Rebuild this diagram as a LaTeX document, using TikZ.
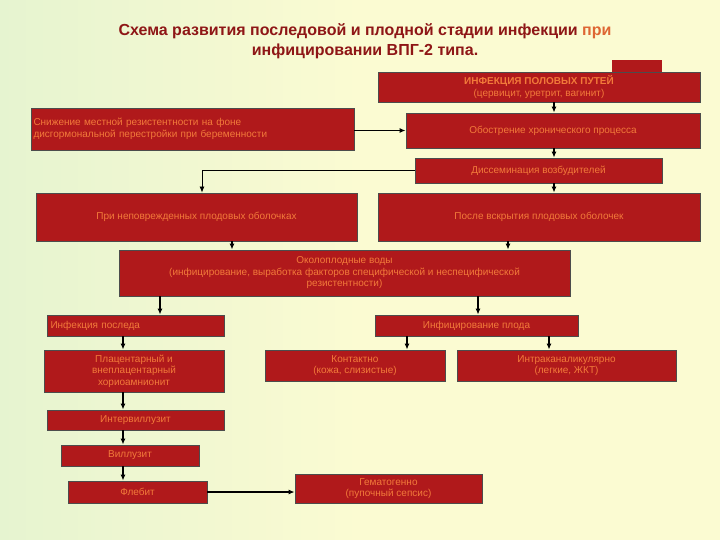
\documentclass[tikz,border=0pt]{standalone}
\usepackage{fontspec}
\setmainfont{Liberation Sans}
\usetikzlibrary{arrows.meta}
\definecolor{bxf}{HTML}{B0191B}
\definecolor{bxt}{HTML}{F27A3A}
\definecolor{ttl}{HTML}{8E1616}
\definecolor{bgy}{HTML}{FBFBD2}
\definecolor{bgg}{HTML}{E6F4D0}
\tikzset{
  bx/.style={draw=black!70,line width=0.8pt,fill=bxf,text=bxt,font=\fontsize{10}{11.5}\selectfont,align=center,inner sep=1pt},
  ar/.style={line width=1.2pt,-{Latex[length=6pt,width=5pt]}}
}
\newcommand{\rbox}[6]{\node[bx,minimum width=#4-#2,minimum height=#5-#3] (#1) at ({(#2+#4)/2},{(#3+#5)/2}) {#6};}
\begin{document}
\begin{tikzpicture}[x=1pt,y=-1pt]
\shade[left color=bgg,right color=bgy] (0,0) rectangle (360,540);
\fill[bgy] (360,0) rectangle (720,540);
\useasboundingbox (0,0) rectangle (720,540);
\fill[bxf] (612,60) rectangle (662,73);
\node[font=\bfseries\fontsize{16}{20}\selectfont,text=ttl,align=center] (title) at (365,41) {Схема развития последовой и плодной стадии инфекции \textcolor{bxt!80!ttl}{при}\\инфицировании ВПГ-2 типа.};
\rbox{top}{378}{72}{700}{102}{\textbf{ИНФЕКЦИЯ ПОЛОВЫХ ПУТЕЙ}\\(цервицит, уретрит, вагинит)}
\node[bx,minimum width=323,minimum height=42,align=left,text width=318] (sn) at (192.5,129) {Снижение местной резистентности на фоне\\дисгормональной перестройки при беременности};
\rbox{ob}{406}{113}{700}{148}{Обострение хронического процесса}
\rbox{dis}{415}{158}{662}{183}{Диссеминация возбудителей}
\rbox{pri}{36}{193}{357}{241}{При неповрежденных плодовых оболочках}
\rbox{pos}{378}{193}{700}{241}{После вскрытия плодовых оболочек}
\rbox{ok}{119}{250}{570}{296}{Околоплодные воды\\(инфицирование, выработка факторов специфической и неспецифической\\резистентности)}
\node[bx,minimum width=177,minimum height=21,align=left,text width=170] (pl) at (135.5,325.5) {Инфекция последа};
\rbox{pf}{375}{315}{578}{336}{Инфицирование плода}
\rbox{plc}{44}{350}{224}{392}{Плацентарный и\\внеплацентарный\\хориоамнионит}
\rbox{kon}{265}{350}{445}{381}{Контактно\\(кожа, слизистые)}
\rbox{int}{457}{350}{676}{381}{Интраканаликулярно\\(легкие, ЖКТ)}
\rbox{iv}{47}{410}{224}{430}{Интервиллузит}
\rbox{vil}{61}{445}{199}{466}{Виллузит}
\rbox{fl}{68}{481}{207}{503}{Флебит}
\rbox{gem}{295}{474}{482}{503}{Гематогенно\\(пупочный сепсис)}
\draw[ar] (top.south -| 554,0) -- (ob.north -| 554,0);
\draw[ar] (sn.east |- ob) -- (ob.west);
\draw[ar] (ob.south -| 554,0) -- (dis.north -| 554,0);
\draw[ar] (dis.south -| 554,0) -- (pos.north -| 554,0);
\draw[line width=0.8pt,-{Latex[length=6pt,width=5pt]}] (dis.west) -| (pri.north -| 202,0);
\draw[ar] (pri.south -| 232,0) -- (ok.north -| 232,0);
\draw[ar] (pos.south -| 508,0) -- (ok.north -| 508,0);
\draw[ar] (ok.south -| 160,0) -- (pl.north -| 160,0);
\draw[ar] (ok.south -| 478,0) -- (pf.north -| 478,0);
\draw[ar] (pl.south -| 123,0) -- (plc.north -| 123,0);
\draw[ar] (plc.south -| 123,0) -- (iv.north -| 123,0);
\draw[ar] (iv.south -| 123,0) -- (vil.north -| 123,0);
\draw[ar] (vil.south -| 123,0) -- (fl.north -| 123,0);
\draw[ar] (fl.east) -- (gem.west |- fl.east);
\draw[ar] (pf.south -| 407,0) -- (kon.north -| 407,0);
\draw[ar] (pf.south -| 549,0) -- (int.north -| 549,0);
\end{tikzpicture}
\end{document}
